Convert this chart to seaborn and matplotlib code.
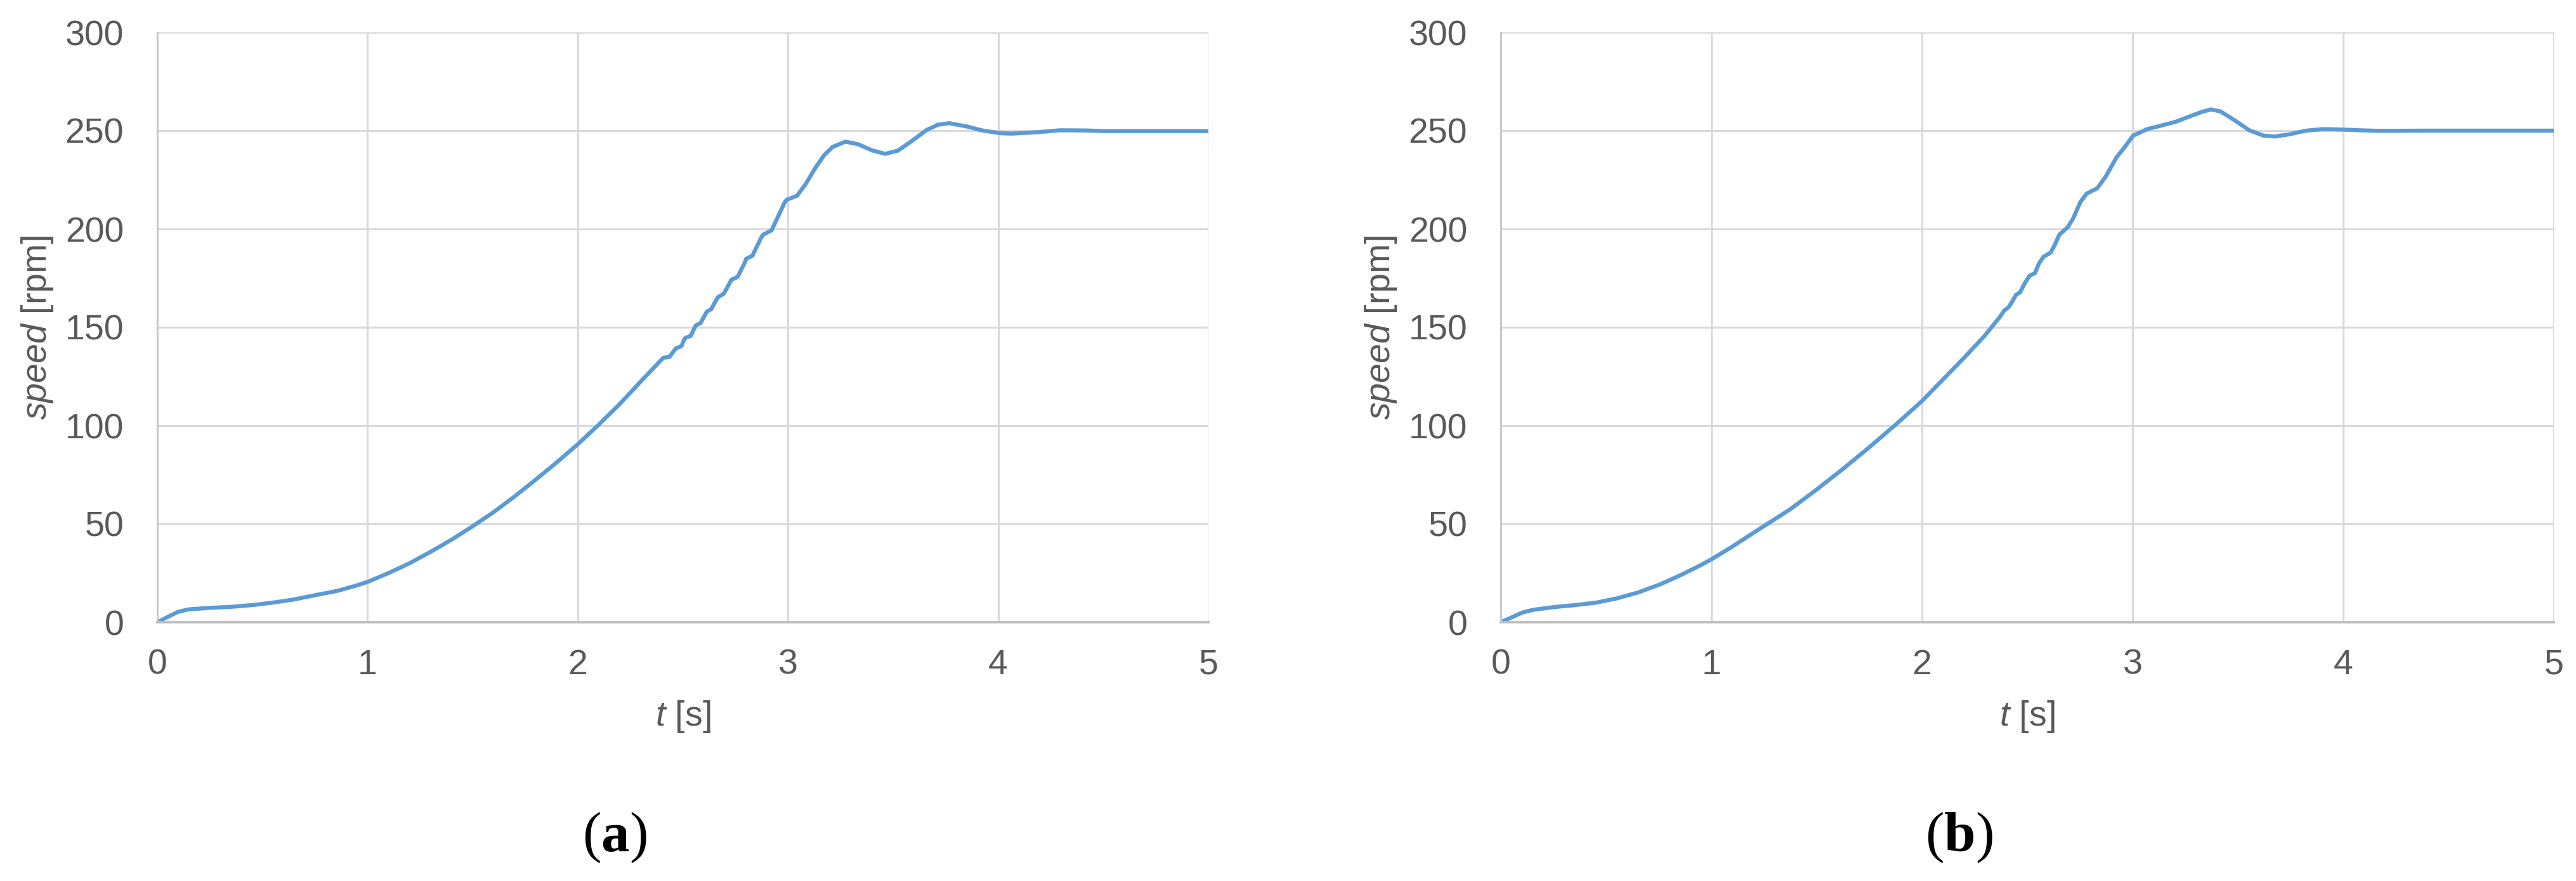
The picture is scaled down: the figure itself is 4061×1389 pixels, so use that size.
import matplotlib
matplotlib.use("Agg")
import matplotlib.pyplot as plt
import seaborn as sns

# (a) speed response
t_a = [0, 0.046, 0.097, 0.147, 0.248, 0.349, 0.45, 0.552, 0.652, 0.753, 0.855, 0.945,
       1.0, 1.1, 1.2, 1.3, 1.4, 1.5, 1.6, 1.7, 1.8, 1.9, 2.0, 2.1, 2.2, 2.3,
       2.407, 2.437, 2.463, 2.468, 2.493, 2.508, 2.513, 2.538, 2.559, 2.564, 2.584, 2.609,
       2.614, 2.634, 2.665, 2.67, 2.695, 2.725, 2.73, 2.761, 2.796, 2.801, 2.831, 2.872,
       2.882, 2.922, 2.983, 2.993, 3.043, 3.084, 3.13,
       3.172, 3.212, 3.273, 3.334, 3.402, 3.463, 3.524, 3.591, 3.659, 3.713, 3.767, 3.848,
       3.929, 4.01, 4.064, 4.186, 4.294, 4.416, 4.5, 5.0]
speed_a = [0, 2.5, 5.2, 6.5, 7.3, 7.8, 8.7, 10.0, 11.6, 13.8, 15.9, 18.6,
           20.5, 25.0, 30.0, 35.8, 42.0, 48.8, 56.0, 64.0, 72.5, 81.3, 90.5, 100.5, 111.0, 122.5,
           134.5, 135.0, 138.8, 139.3, 140.4, 144.1, 144.6, 145.7, 150.5, 151.1, 152.1, 157.0,
           158.0, 159.1, 165.0, 165.5, 167.1, 173.0, 174.1, 175.7, 183.2, 184.8, 186.4, 195.5,
           197.1, 199.3, 213.2, 214.8, 216.9, 222.8, 231.0,
           237.5, 241.7, 244.4, 243.1, 239.9, 238.2, 239.9, 244.9, 250.3, 253.0, 253.8, 252.2,
           250.0, 248.7, 248.5, 249.2, 250.2, 250.1, 249.8, 249.8]

# (b) speed response
t_b = [0, 0.052, 0.102, 0.153, 0.253, 0.353, 0.454, 0.554, 0.654, 0.755, 0.855, 0.945,
       1.0, 1.1, 1.2, 1.375, 1.5, 1.625, 1.75, 1.875, 2.0, 2.1, 2.2, 2.3,
       2.345, 2.37, 2.39, 2.41, 2.43, 2.446, 2.466, 2.491, 2.511, 2.536, 2.556, 2.576, 2.611,
       2.632, 2.652, 2.692, 2.717, 2.752, 2.782, 2.832, 2.872, 2.923, 2.962, 3.003, 3.07,
       3.137, 3.204, 3.27, 3.325, 3.372, 3.419, 3.487, 3.554, 3.621, 3.675, 3.742, 3.823,
       3.903, 3.984, 4.078, 4.172, 4.374, 5.0]
speed_b = [0, 2.5, 4.9, 6.3, 7.7, 8.7, 10.0, 12.2, 15.2, 19.2, 24.0, 28.8,
           32.0, 38.5, 45.5, 57.5, 67.5, 78.0, 89.0, 100.5, 112.5, 123.5, 134.5, 146.0,
           152.0, 155.3, 158.5, 160.1, 163.3, 166.5, 167.8, 173.0, 176.2, 177.5, 182.6, 185.8, 188.0,
           192.3, 197.1, 200.9, 205.2, 213.7, 218.0, 220.7, 226.6, 236.3, 241.6, 247.5, 250.8,
           252.6, 254.5, 257.2, 259.4, 260.8, 259.7, 255.1, 250.2, 247.5, 247.0, 248.1, 250.0,
           250.8, 250.6, 250.2, 249.9, 250.0, 250.0]

x_ticks = [0, 1, 2, 3, 4, 5]
y_ticks = [0, 50, 100, 150, 200, 250, 300]
panel_labels = ["a", "b"]

sns.set_theme(style="whitegrid")
plt.rcParams["font.family"] = ["Liberation Sans", "DejaVu Sans"]
plt.rcParams["mathtext.fontset"] = "custom"
plt.rcParams["mathtext.rm"] = "Liberation Sans"
plt.rcParams["mathtext.it"] = "Liberation Sans:italic"
plt.rcParams["mathtext.bf"] = "Liberation Serif:bold"

W, H = 4061, 1389
fig = plt.figure(figsize=(W / 100, H / 100), dpi=100)
ax_a = fig.add_axes([248 / W, 1 - 981 / H, 1657 / W, 930 / H])
ax_b = fig.add_axes([2366 / W, 1 - 981 / H, 1660 / W, 930 / H])

line_color = "#5B9BD5"
text_color = "#595959"

for ax, t, v, lab, cx in [(ax_a, t_a, speed_a, panel_labels[0], 969),
                          (ax_b, t_b, speed_b, panel_labels[1], 3088)]:
    sns.lineplot(x=t, y=v, ax=ax, color=line_color, linewidth=4.6, sort=False, estimator=None)
    ax.set_xlim(0, 5)
    ax.set_ylim(0, 300)
    ax.set_xticks(x_ticks)
    ax.set_yticks(y_ticks)
    ax.grid(True, color="#d9d9d9", linewidth=2.2)
    ax.set_axisbelow(True)
    for s in ["top", "right"]:
        ax.spines[s].set_visible(False)
    ax.spines["left"].set_color("#c8c8c8")
    ax.spines["left"].set_linewidth(2.2)
    ax.spines["bottom"].set_color("#bfbfbf")
    ax.spines["bottom"].set_linewidth(2.8)
    ax.tick_params(axis="both", length=0, labelsize=40, labelcolor=text_color)
    ax.tick_params(axis="x", pad=30)
    ax.tick_params(axis="y", pad=38)
    ax.set_xlabel("$t$ [s]", fontsize=40, color=text_color)
    ax.set_ylabel("$speed$ [rpm]", fontsize=40, color=text_color)
    ax.xaxis.set_label_coords(0.5, -0.13)
    ax.yaxis.set_label_coords(-0.097, 0.5)
    fig.text(cx / W, 1 - 1321 / H, "($\\mathbf{" + lab + "}$)", fontsize=64,
             family="Liberation Serif", color="black", ha="center", va="center")

fig.savefig("out.png", dpi=100, facecolor="white")
